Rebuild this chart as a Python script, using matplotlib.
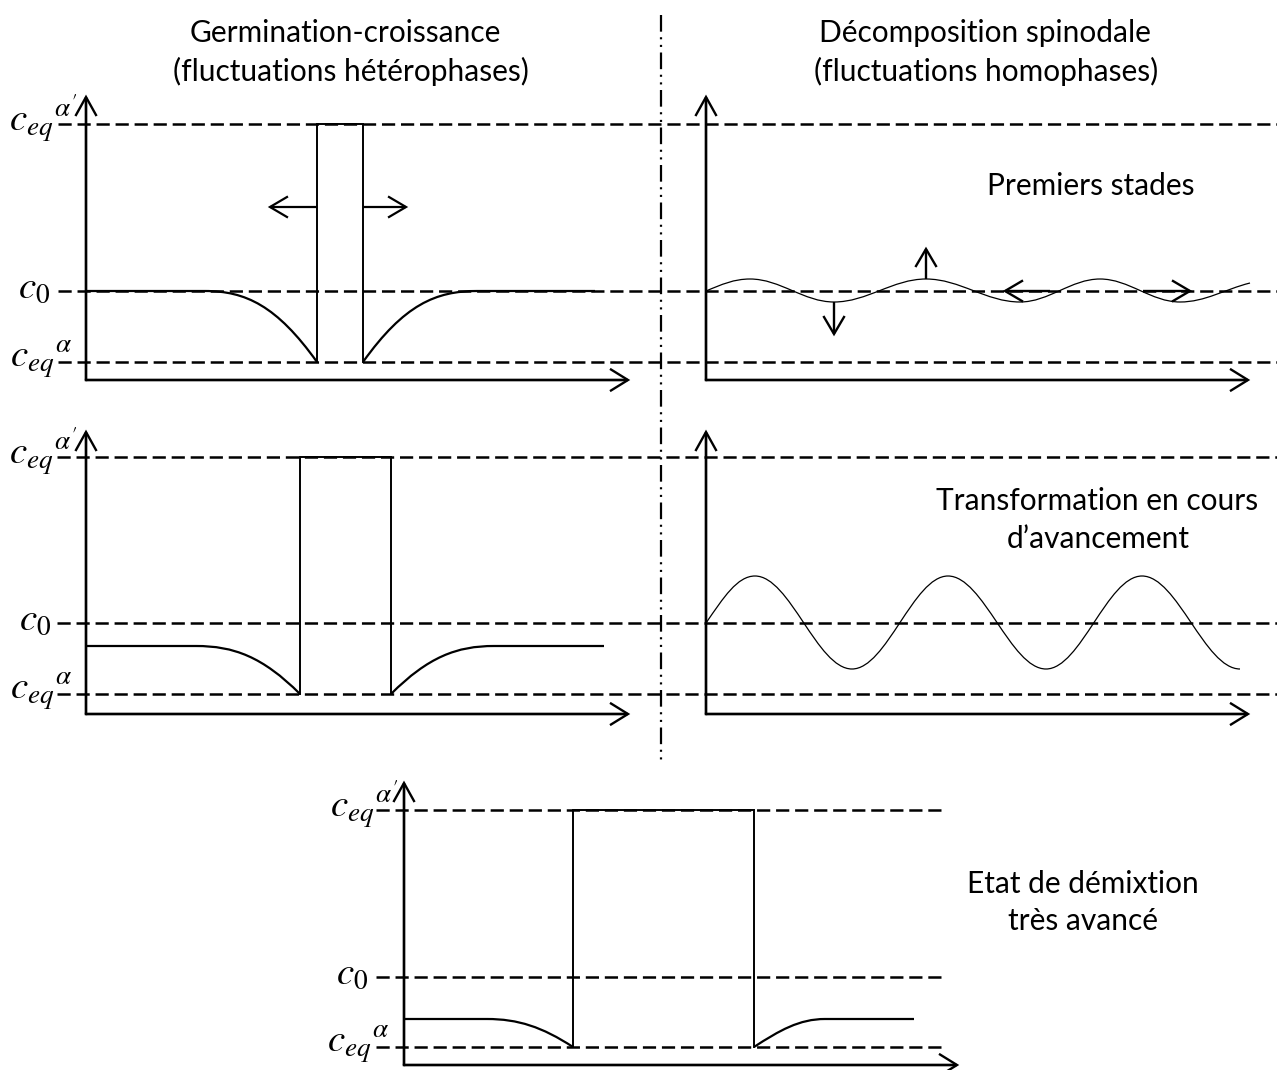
import numpy as np
import matplotlib
matplotlib.use("Agg")
import matplotlib.pyplot as plt
from matplotlib.path import Path
from matplotlib.patches import PathPatch

plt.rcParams["lines.scale_dashes"] = False
plt.rcParams["mathtext.fontset"] = "stix"

# --- axes of the five small diagrams (pixel positions) ---
axis_x0 = [86, 86, 706, 706, 404]        # x of the vertical axis
axis_x1 = [628, 628, 1248, 1248, 957]    # tip of the horizontal axis
axis_y0 = [380, 714, 380, 714, 1065]     # y of the horizontal axis
axis_top = [97, 432, 97, 432, 783]       # tip of the vertical axis

# --- concentration levels per row: ceq alpha', c0, ceq alpha ---
lvl_ceq_ap = [124, 457, 810]
lvl_c0 = [291, 623, 977]
lvl_ceq_a = [362, 694, 1047]
dash_x0 = [58, 57, 376]
dash_x1 = [1277, 1277, 946]
label_right = [(77, 50, 72), (77, 51, 72), (398, 368, 389)]

# --- precipitate profiles (germination-croissance + final state) ---
prof_axis = [0, 1, 4]
prof_matrix = [291, 646, 1019]           # far-field matrix concentration
prof_flat_left = [205, 196, 487]
prof_rect_left = [317, 300, 573]
prof_rect_right = [363, 391, 754]
prof_flat_right = [477, 494, 825]
prof_end = [595, 604, 914]
prof_slope = [1.4, 1.0, 0.65]
prof_row = [0, 1, 2]

# --- spinodal waves: extrema ---
wave1_x = [706, 750, 834, 926, 1020, 1100, 1180, 1250]
wave1_y = [291, 279, 302, 279, 302, 279, 302, 283]
wave1_s = [-0.42, 0, 0, 0, 0, 0, 0, -0.25]
wave2_x = [706, 755, 852, 948, 1046, 1142, 1240]
wave2_y = [623, 576, 669, 576, 669, 576, 669]
wave2_s = [-1.45, 0, 0, 0, 0, 0, 0]

# --- arrows (start, tip) ---
arrows_growth = [((317, 207), (270, 207)), ((363, 207), (406, 207))]
arrows_spin = [((834, 302), (834, 334)), ((926, 279), (926, 249)),
               ((1050, 291), (1005, 291)), ((1143, 291), (1190, 291))]

# --- texts ---
texts = [("Germination-croissance", 345, 42), ("(fluctuations hétérophases)", 351, 81),
         ("Décomposition spinodale", 985, 42), ("(fluctuations homophases)", 986, 81),
         ("Premiers stades", 1091, 195),
         ("Transformation en cours", 1097, 510), ("d’avancement", 1098, 548),
         ("Etat de démixtion", 1083, 893), ("très avancé", 1083, 930)]
labels = [r"$c_{eq}{}^{\alpha'}$", r"$c_0$", r"$c_{eq}{}^{\alpha}$"]


def smooth(xs, ys, slopes, k=0.36):
    verts = [(xs[0], ys[0])]
    codes = [Path.MOVETO]
    for i in range(len(xs) - 1):
        h = k * (xs[i + 1] - xs[i])
        verts += [(xs[i] + h, ys[i] + slopes[i] * h),
                  (xs[i + 1] - h, ys[i + 1] - slopes[i + 1] * h),
                  (xs[i + 1], ys[i + 1])]
        codes += [Path.CURVE4] * 3
    return verts, codes


def arrow(ax, p0, p1, L=16, W=9, lw=1.5):
    (x0, y0), (x1, y1) = p0, p1
    ax.plot([x0, x1], [y0, y1], color="k", lw=lw, solid_capstyle="butt")
    d = np.hypot(x1 - x0, y1 - y0)
    ux, uy = (x1 - x0) / d, (y1 - y0) / d
    bx, by = x1 - ux * L, y1 - uy * L
    ax.plot([bx - uy * W, x1, bx + uy * W], [by + ux * W, y1, by - ux * W],
            color="k", lw=lw, solid_joinstyle="miter")


fig = plt.figure(figsize=(12.77, 10.70), dpi=100)
ax = fig.add_axes([0, 0, 1, 1])
ax.set_xlim(0, 1277)
ax.set_ylim(1070, 0)
ax.axis("off")

# dashed levels + labels
for r in range(3):
    for y in (lvl_ceq_ap[r], lvl_c0[r], lvl_ceq_a[r]):
        ax.plot([dash_x0[r], dash_x1[r]], [y, y], color="k", lw=1.8, dashes=(9.5, 4.2))
    for lab, y, xr, dy in zip(labels, (lvl_ceq_ap[r], lvl_c0[r], lvl_ceq_a[r]),
                              label_right[r], (7, 7, 5)):
        ax.text(xr, y + dy, lab, fontsize=28, ha="right", va="baseline")

# separator
ax.plot([661, 661], [15, 765], color="k", lw=1.6, dashes=(12, 4, 1.5, 4, 1.5, 4))

# axes
for i in range(5):
    ax.plot([axis_x0[i], axis_x0[i]], [axis_y0[i], axis_top[i] + 2], color="k", lw=1.7)
    ax.plot([axis_x0[i], axis_x1[i] - 2], [axis_y0[i], axis_y0[i]], color="k", lw=1.7)
    arrow(ax, (axis_x0[i], axis_y0[i]), (axis_x0[i], axis_top[i]), L=18, W=10, lw=1.7)
    arrow(ax, (axis_x0[i], axis_y0[i]), (axis_x1[i], axis_y0[i]), L=17, W=10.5, lw=1.7)

# precipitate profiles
for j in range(3):
    r = prof_row[j]
    x0 = axis_x0[prof_axis[j]]
    m, top, bot = prof_matrix[j], lvl_ceq_ap[r], lvl_ceq_a[r]
    s = prof_slope[j]
    v1, c1 = smooth([x0, prof_flat_left[j], prof_rect_left[j]], [m, m, bot], [0, 0, s])
    v2, c2 = smooth([prof_rect_right[j], prof_flat_right[j], prof_end[j]], [bot, m, m], [-s, 0, 0])
    ax.add_patch(PathPatch(Path(v1, c1), fill=False, lw=1.6, ec="k"))
    ax.add_patch(PathPatch(Path(v2, c2), fill=False, lw=1.6, ec="k"))
    ax.plot([prof_rect_left[j], prof_rect_left[j], prof_rect_right[j], prof_rect_right[j]],
            [bot, top, top, bot], color="k", lw=1.4, solid_joinstyle="miter")

# waves
for xs, ys, ss in ((wave1_x, wave1_y, wave1_s), (wave2_x, wave2_y, wave2_s)):
    v, c = smooth(xs, ys, ss)
    ax.add_patch(PathPatch(Path(v, c), fill=False, lw=0.9, ec="k"))

for p0, p1 in arrows_growth:
    arrow(ax, p0, p1, L=17, W=10, lw=1.6)
for p0, p1 in arrows_spin:
    arrow(ax, p0, p1, L=17, W=10, lw=1.7)

for t, x, y in texts:
    ax.text(x, y, t, fontsize=21.5, family="Lato", ha="center", va="baseline")

fig.savefig("out.png", dpi=100)
